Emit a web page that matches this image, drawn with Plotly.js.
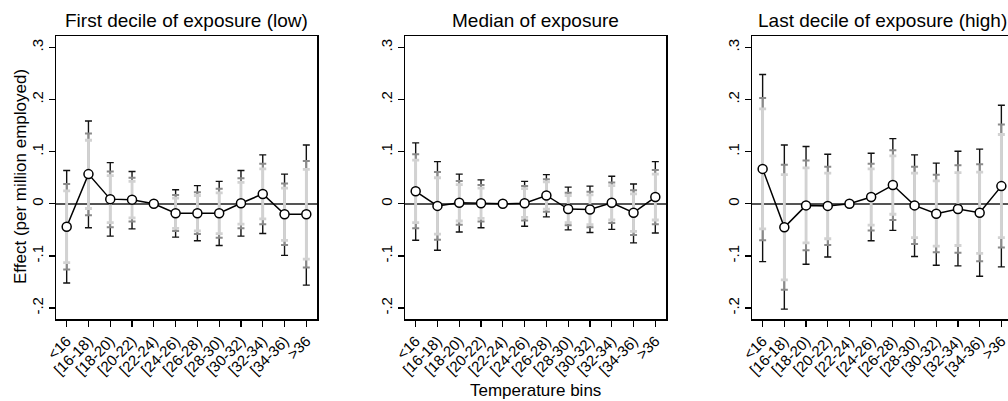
<!DOCTYPE html>
<html>
<head>
<meta charset="utf-8">
<script src="https://cdn.plot.ly/plotly-3.0.1.min.js"></script>
<style>
  html, body { margin: 0; padding: 0; overflow: hidden; background: #fff; }
  #chart { width: 1013px; height: 401px; }
</style>
</head>
<body>
<div id="chart"></div>
<script>
// ---------- data ----------
const categories = ['<16','[16-18)','[18-20)','[20-22)','[22-24)','[24-26)','[26-28)','[28-30)','[30-32)','[32-34)','[34-36)','>36'];
const panelTitles = ['First decile of exposure (low)', 'Median of exposure', 'Last decile of exposure (high)'];
const yTickVals = [-0.2, -0.1, 0, 0.1, 0.2, 0.3];
const yTickText = ['-.2', '-.1', '0', '.1', '.2', '.3'];

// Panel 1: first decile of exposure
const est1  = [-0.044, 0.057, 0.009, 0.008, 0, -0.018, -0.018, -0.018, 0.001, 0.019, -0.020, -0.020];
const hi99_1 = [0.064, 0.159, 0.079, 0.062, 0, 0.027, 0.035, 0.043, 0.064, 0.094, 0.057, 0.113];
const lo99_1 = [-0.152, -0.046, -0.062, -0.048, 0, -0.064, -0.071, -0.080, -0.062, -0.057, -0.099, -0.156];
const hi95_1 = [0.038, 0.135, 0.062, 0.050, 0, 0.017, 0.022, 0.029, 0.049, 0.077, 0.039, 0.082];
const lo95_1 = [-0.126, -0.022, -0.045, -0.034, 0, -0.052, -0.058, -0.065, -0.047, -0.039, -0.079, -0.122];
const hi90_1 = [0.025, 0.122, 0.054, 0.043, 0, 0.011, 0.016, 0.021, 0.041, 0.067, 0.030, 0.066];
const lo90_1 = [-0.113, -0.009, -0.036, -0.027, 0, -0.047, -0.052, -0.057, -0.039, -0.029, -0.070, -0.106];

// Panel 2: median of exposure
const est2  = [0.024, -0.004, 0.002, 0.001, 0, 0.001, 0.016, -0.010, -0.011, 0.002, -0.017, 0.013];
const hi99_2 = [0.117, 0.081, 0.057, 0.046, 0, 0.043, 0.056, 0.032, 0.034, 0.053, 0.038, 0.081];
const lo99_2 = [-0.070, -0.089, -0.054, -0.046, 0, -0.043, -0.025, -0.050, -0.055, -0.049, -0.075, -0.056];
const hi95_2 = [0.095, 0.061, 0.044, 0.036, 0, 0.034, 0.047, 0.021, 0.023, 0.041, 0.026, 0.065];
const lo95_2 = [-0.047, -0.069, -0.040, -0.034, 0, -0.032, -0.015, -0.041, -0.045, -0.037, -0.060, -0.039];
const hi90_2 = [0.084, 0.050, 0.037, 0.030, 0, 0.029, 0.042, 0.016, 0.017, 0.035, 0.019, 0.057];
const lo90_2 = [-0.036, -0.058, -0.033, -0.028, 0, -0.026, -0.010, -0.036, -0.040, -0.031, -0.053, -0.031];

// Panel 3: last decile of exposure
const est3  = [0.067, -0.045, -0.003, -0.004, 0, 0.013, 0.036, -0.003, -0.019, -0.010, -0.017, 0.034];
const hi99_3 = [0.248, 0.113, 0.110, 0.095, 0, 0.097, 0.125, 0.094, 0.078, 0.101, 0.105, 0.189];
const lo99_3 = [-0.111, -0.202, -0.116, -0.102, 0, -0.071, -0.051, -0.101, -0.118, -0.119, -0.139, -0.121];
const hi95_3 = [0.203, 0.075, 0.083, 0.071, 0, 0.077, 0.103, 0.071, 0.056, 0.074, 0.076, 0.152];
const lo95_3 = [-0.070, -0.165, -0.089, -0.079, 0, -0.051, -0.031, -0.077, -0.093, -0.094, -0.110, -0.084];
const hi90_3 = [0.182, 0.056, 0.069, 0.059, 0, 0.067, 0.092, 0.059, 0.044, 0.060, 0.061, 0.133];
const lo90_3 = [-0.048, -0.146, -0.075, -0.067, 0, -0.041, -0.020, -0.065, -0.081, -0.080, -0.095, -0.065];

// ---------- build ----------
const FONT = 'Liberation Sans, Arial, Helvetica, sans-serif';
const W = 1013, H = 401;
const panels = [
  {est: est1, ci: [[lo99_1, hi99_1], [lo95_1, hi95_1], [lo90_1, hi90_1]], px: [56, 317]},
  {est: est2, ci: [[lo99_2, hi99_2], [lo95_2, hi95_2], [lo90_2, hi90_2]], px: [405, 666]},
  {est: est3, ci: [[lo99_3, hi99_3], [lo95_3, hi95_3], [lo90_3, hi90_3]], px: [752, 1012]}
];
const ciStyles = [
  {color: '#111111', thickness: 1.4, width: 3.5},
  {color: '#8a8a8a', thickness: 2.0, width: 3.5},
  {color: '#d2d2d2', thickness: 2.8, width: 3.5}
];
const boxTop = 36, boxBottom = 319;
const yDomain = [1 - boxBottom / H, 1 - boxTop / H];

const traces = [];
const layout = {
  width: W, height: H,
  margin: {l: 0, r: 0, t: 0, b: 0},
  paper_bgcolor: '#ffffff', plot_bgcolor: '#ffffff',
  showlegend: false,
  font: {family: FONT, color: '#000000'},
  annotations: []
};

panels.forEach((p, i) => {
  const xa = i === 0 ? 'x' : 'x' + (i + 1);
  const ya = i === 0 ? 'y' : 'y' + (i + 1);
  p.ci.forEach((bounds, k) => {
    const lo = bounds[0], hi = bounds[1];
    traces.push({
      type: 'scatter', mode: 'markers', x: categories, y: p.est,
      xaxis: xa, yaxis: ya, hoverinfo: 'skip',
      marker: {size: 1, color: 'rgba(0,0,0,0)'},
      error_y: {
        type: 'data', symmetric: false, visible: true,
        array: hi.map((v, j) => v - p.est[j]),
        arrayminus: lo.map((v, j) => p.est[j] - v),
        color: ciStyles[k].color, thickness: ciStyles[k].thickness, width: ciStyles[k].width
      }
    });
  });
  traces.push({
    type: 'scatter', mode: 'lines+markers', x: categories, y: p.est,
    xaxis: xa, yaxis: ya,
    line: {color: '#000000', width: 1.5},
    marker: {symbol: 'circle', size: 9, color: '#ffffff', line: {color: '#000000', width: 1.5}}
  });

  const xKey = i === 0 ? 'xaxis' : 'xaxis' + (i + 1);
  const yKey = i === 0 ? 'yaxis' : 'yaxis' + (i + 1);
  layout[xKey] = {
    domain: [p.px[0] / W, p.px[1] / W], anchor: ya,
    type: 'category', categoryorder: 'array', categoryarray: categories,
    range: [-0.49, 11.49], fixedrange: true,
    showline: true, linecolor: '#000000', linewidth: 1.5, mirror: true,
    showgrid: false, zeroline: false,
    ticks: 'outside', ticklen: 6, tickwidth: 1.2, tickcolor: '#000000',
    tickangle: -45, autotickangles: [-45],
    tickfont: {family: FONT, size: 15, color: '#000000'}
  };
  layout[yKey] = {
    domain: yDomain, anchor: xa,
    range: [-0.221, 0.322], fixedrange: true,
    tickvals: yTickVals, ticktext: yTickText,
    showline: true, linecolor: '#000000', linewidth: 1.5, mirror: true,
    showgrid: false,
    zeroline: true, zerolinecolor: '#555555', zerolinewidth: 1.5,
    ticks: 'outside', ticklen: 6, tickwidth: 1.2, tickcolor: '#000000',
    tickangle: -90, tickfont: {family: FONT, size: 15, color: '#000000'}
  };
  layout.annotations.push({
    text: panelTitles[i], xref: 'paper', yref: 'paper',
    x: (p.px[0] + p.px[1]) / 2 / W, y: 1 - 20 / H,
    xanchor: 'center', yanchor: 'middle', showarrow: false,
    font: {family: FONT, size: 19, color: '#000000'}
  });
});

layout.annotations.push({
  text: 'Effect (per million employed)', xref: 'paper', yref: 'paper',
  x: 21 / W, y: 1 - 177 / H, xanchor: 'center', yanchor: 'middle',
  textangle: -90, showarrow: false,
  font: {family: FONT, size: 17, color: '#000000'}
});
layout.annotations.push({
  text: 'Temperature bins', xref: 'paper', yref: 'paper',
  x: (405 + 666) / 2 / W, y: 1 - 390 / H, xanchor: 'center', yanchor: 'middle',
  showarrow: false,
  font: {family: FONT, size: 17, color: '#000000'}
});

Plotly.newPlot('chart', traces, layout, {displayModeBar: false, staticPlot: true});
</script>
</body>
</html>
